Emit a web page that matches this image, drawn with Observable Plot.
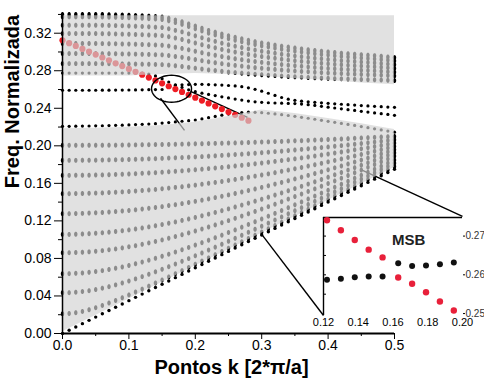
<!DOCTYPE html>
<html><head><meta charset="utf-8">
<script src="https://cdn.jsdelivr.net/npm/d3@7"></script>
<script src="https://cdn.jsdelivr.net/npm/@observablehq/plot@0.6"></script>
<style>
body{margin:0;background:#fff}
#wrap{position:relative;width:484px;height:378px;overflow:hidden}
#inset{position:absolute;left:300px;top:205px}
</style>
</head><body><div id="wrap"><div id="main"></div><div id="inset"></div></div>
<script>
// k points (2*pi/a)
const K = [0,.01,.02,.03,.04,.05,.06,.07,.08,.09,.10,.11,.12,.13,.14,.15,.16,.17,.18,.19,.20,.21,.22,.23,.24,.25,.26,.27,.28,.29,.30,.31,.32,.33,.34,.35,.36,.37,.38,.39,.40,.41,.42,.43,.44,.45,.46,.47,.48,.49,.50];

// light line (black dotted)
const lightLine = [0,.0035,.007,.0105,.014,.0175,.021,.0245,.028,.0315,.035,.0385,.042,.0455,.049,.0525,.056,.0595,.063,.0665,.07,.0735,.077,.0805,.084,.0875,.091,.0945,.098,.1015,.105,.1085,.112,.1155,.119,.1225,.126,.1295,.133,.1365,.14,.1435,.147,.1505,.154,.1575,.161,.1645,.168,.1715,.175];

// lower bulk bands
const low0 = [.0210,.0213,.0222,.0235,.0253,.0275,.0299,.0325,.0352,.0381,.0411,.0442,.0473,.0505,.0538,.0570,.0603,.0637,.0670,.0704,.0738,.0772,.0806,.0840,.0874,.0909,.0943,.0977,.1012,.1047,.1081,.1116,.1151,.1185,.1220,.1255,.1290,.1325,.1360,.1395,.1430,.1465,.1499,.1535,.1569,.1605,.1640,.1675,.1710,.1745,.1780];
const low1 = [.0434,.0435,.0440,.0447,.0456,.0468,.0483,.0499,.0518,.0538,.0559,.0582,.0606,.0631,.0657,.0684,.0712,.0740,.0769,.0798,.0828,.0858,.0889,.0920,.0951,.0982,.1014,.1046,.1078,.1111,.1143,.1176,.1209,.1242,.1275,.1308,.1341,.1375,.1408,.1442,.1475,.1509,.1543,.1577,.1611,.1645,.1679,.1713,.1747,.1781,.1815];
const low2 = [.0637,.0638,.0641,.0645,.0652,.0660,.0670,.0682,.0695,.0709,.0725,.0743,.0761,.0781,.0801,.0823,.0845,.0868,.0892,.0917,.0942,.0968,.0994,.1021,.1048,.1076,.1104,.1133,.1162,.1191,.1220,.1250,.1280,.1310,.1341,.1371,.1402,.1433,.1464,.1496,.1527,.1559,.1591,.1622,.1654,.1686,.1719,.1751,.1783,.1816,.1848];
const low3 = [.0860,.0861,.0863,.0866,.0870,.0876,.0883,.0892,.0901,.0912,.0924,.0936,.0950,.0965,.0981,.0997,.1015,.1033,.1052,.1072,.1092,.1113,.1135,.1157,.1180,.1203,.1227,.1251,.1276,.1301,.1326,.1352,.1378,.1405,.1432,.1459,.1486,.1514,.1541,.1569,.1598,.1626,.1655,.1684,.1713,.1742,.1771,.1801,.1830,.1860,.1890];
const low4 = [.1056,.1056,.1058,.1060,.1064,.1068,.1073,.1080,.1087,.1095,.1104,.1114,.1124,.1136,.1148,.1161,.1175,.1189,.1205,.1220,.1237,.1254,.1272,.1290,.1309,.1328,.1348,.1368,.1389,.1410,.1431,.1453,.1475,.1498,.1521,.1544,.1568,.1592,.1616,.1641,.1666,.1691,.1716,.1741,.1767,.1793,.1819,.1845,.1872,.1899,.1925];
const low5 = [.1277,.1277,.1278,.1280,.1283,.1286,.1289,.1294,.1299,.1305,.1311,.1318,.1326,.1334,.1343,.1352,.1363,.1373,.1384,.1396,.1408,.1421,.1434,.1448,.1462,.1477,.1492,.1508,.1524,.1540,.1557,.1574,.1592,.1610,.1628,.1647,.1666,.1685,.1704,.1724,.1744,.1765,.1785,.1806,.1827,.1848,.1870,.1892,.1914,.1936,.1959];
const low6 = [.1490,.1490,.1491,.1492,.1494,.1496,.1498,.1502,.1505,.1509,.1513,.1518,.1524,.1529,.1535,.1542,.1549,.1557,.1564,.1573,.1581,.1591,.1600,.1610,.1620,.1631,.1642,.1653,.1665,.1677,.1689,.1701,.1714,.1728,.1741,.1755,.1769,.1784,.1798,.1813,.1829,.1844,.1860,.1876,.1892,.1908,.1925,.1942,.1959,.1976,.1994];
const low7 = [.1685,.1685,.1686,.1686,.1687,.1689,.1690,.1692,.1695,.1697,.1700,.1703,.1707,.1710,.1714,.1719,.1723,.1728,.1733,.1739,.1745,.1751,.1757,.1763,.1770,.1777,.1785,.1792,.1800,.1808,.1816,.1825,.1834,.1843,.1852,.1861,.1871,.1881,.1891,.1902,.1912,.1923,.1934,.1945,.1957,.1968,.1980,.1992,.2004,.2016,.2029];
const low8 = [.1845,.1845,.1845,.1846,.1846,.1847,.1848,.1850,.1851,.1852,.1854,.1856,.1858,.1861,.1863,.1866,.1869,.1872,.1875,.1878,.1882,.1885,.1889,.1893,.1898,.1902,.1907,.1911,.1916,.1921,.1927,.1932,.1938,.1943,.1949,.1955,.1962,.1968,.1974,.1981,.1988,.1995,.2002,.2009,.2017,.2024,.2032,.2040,.2048,.2056,.2064];
const low9 = [.2005,.2005,.2005,.2005,.2006,.2006,.2006,.2007,.2007,.2008,.2009,.2010,.2011,.2012,.2013,.2014,.2015,.2016,.2018,.2019,.2021,.2022,.2024,.2026,.2027,.2029,.2031,.2033,.2035,.2038,.2040,.2042,.2045,.2047,.2050,.2053,.2055,.2058,.2061,.2064,.2067,.2070,.2073,.2076,.2080,.2083,.2087,.2090,.2094,.2097,.2100];

// guided (gap) bands
const bandA = [.2208,.2208,.2209,.2210,.2211,.2213,.2214,.2216,.2218,.2220,.2223,.2226,.2229,.2232,.2236,.2242,.2248,.2255,.2262,.2268,.2275,.2287,.2300,.2313,.2326,.2338,.2348,.2355,.2358,.2357,.2353,.2347,.2340,.2332,.2323,.2314,.2304,.2294,.2283,.2272,.2261,.2250,.2239,.2228,.2217,.2205,.2193,.2181,.2169,.2157,.2145];
const bandB = [.2592,.2592,.2592,.2592,.2592,.2592,.2593,.2593,.2594,.2594,.2595,.2596,.2597,.2598,.2599,.2600,.2635,.2645,.2650,.2653,.2655,.2655,.2653,.2650,.2647,.2643,.2638,.2630,.2618,.2602,.2582,.2560,.2537,.2515,.2497,.2485,.2476,.2469,.2463,.2458,.2453,.2448,.2443,.2438,.2434,.2429,.2425,.2421,.2417,.2413,.2410];
const bandC = [.2775,.2775,.2775,.2775,.2775,.2775,.2775,.2775,.2775,.2775,.2775,.2775,.2775,.2765,.2745,.2715,.2680,.2650,.2622,.2597,.2577,.2561,.2548,.2535,.2522,.2510,.2498,.2487,.2477,.2469,.2463,.2459,.2456,.2454,.2452,.2450,.2445,.2438,.2430,.2421,.2412,.2403,.2394,.2385,.2377,.2368,.2360,.2351,.2343,.2334,.2325];

// upper bulk bands
const up1 = [.2876,.2876,.2876,.2876,.2876,.2876,.2875,.2875,.2874,.2873,.2872,.2871,.2870,.2869,.2867,.2865,.2860,.2853,.2845,.2836,.2827,.2818,.2809,.2802,.2794,.2786,.2780,.2774,.2767,.2762,.2757,.2752,.2748,.2743,.2739,.2735,.2732,.2728,.2725,.2722,.2719,.2716,.2714,.2711,.2709,.2707,.2705,.2703,.2701,.2698,.2695];
const up2 = [.2983,.2983,.2983,.2983,.2983,.2983,.2982,.2982,.2981,.2979,.2978,.2977,.2975,.2974,.2971,.2969,.2962,.2952,.2943,.2931,.2919,.2907,.2895,.2885,.2875,.2865,.2857,.2849,.2840,.2833,.2826,.2820,.2814,.2808,.2803,.2798,.2793,.2789,.2784,.2780,.2776,.2773,.2770,.2766,.2764,.2761,.2758,.2756,.2753,.2749,.2745];
const up3 = [.3090,.3090,.3090,.3090,.3090,.3090,.3089,.3088,.3087,.3085,.3084,.3082,.3080,.3078,.3075,.3072,.3063,.3050,.3038,.3023,.3008,.2992,.2977,.2965,.2951,.2939,.2928,.2918,.2907,.2898,.2889,.2881,.2873,.2866,.2859,.2853,.2847,.2841,.2835,.2830,.2825,.2821,.2816,.2812,.2809,.2805,.2802,.2799,.2795,.2790,.2785];
const up4 = [.3196,.3196,.3196,.3196,.3196,.3196,.3195,.3194,.3192,.3190,.3189,.3186,.3184,.3181,.3178,.3174,.3163,.3148,.3133,.3114,.3096,.3077,.3059,.3044,.3027,.3012,.2999,.2986,.2973,.2962,.2951,.2942,.2933,.2923,.2915,.2907,.2900,.2893,.2886,.2880,.2874,.2868,.2863,.2858,.2854,.2850,.2846,.2842,.2837,.2831,.2825];
const up5 = [.3285,.3285,.3285,.3285,.3285,.3285,.3284,.3283,.3281,.3279,.3277,.3274,.3272,.3268,.3264,.3260,.3247,.3230,.3214,.3193,.3172,.3151,.3130,.3113,.3094,.3077,.3062,.3048,.3033,.3020,.3008,.2997,.2987,.2976,.2967,.2958,.2950,.2942,.2934,.2927,.2920,.2914,.2908,.2903,.2898,.2893,.2889,.2884,.2878,.2872,.2865];
const up6 = [.3374,.3374,.3374,.3374,.3374,.3373,.3373,.3371,.3369,.3367,.3365,.3362,.3359,.3355,.3351,.3346,.3332,.3313,.3294,.3271,.3247,.3224,.3200,.3182,.3161,.3142,.3125,.3109,.3093,.3079,.3065,.3053,.3041,.3029,.3019,.3009,.3000,.2991,.2982,.2974,.2967,.2960,.2953,.2947,.2942,.2936,.2931,.2926,.2920,.2913,.2905];
const up7 = [.3400,.3400,.3400,.3400,.3400,.3400,.3399,.3397,.3395,.3393,.3391,.3388,.3385,.3382,.3377,.3372,.3359,.3340,.3322,.3299,.3276,.3253,.3230,.3211,.3191,.3172,.3156,.3140,.3124,.3110,.3096,.3085,.3073,.3062,.3052,.3042,.3033,.3024,.3016,.3008,.3001,.2994,.2987,.2981,.2976,.2971,.2966,.2961,.2955,.2947,.2940];

// red (MSB) mode
const redK = [0,.01,.02,.03,.04,.05,.06,.07,.08,.09,.10,.11,.12,.13,.14,.15,.16,.17,.18,.19,.20,.21,.22,.23,.24,.25,.26,.27,.28];
const redF = [.3125,.3094,.3064,.3033,.3003,.2972,.2941,.2911,.2880,.2850,.2819,.2788,.2758,.2727,.2697,.2666,.2635,.2605,.2574,.2544,.2513,.2482,.2452,.2421,.2391,.2360,.2330,.2299,.2268];

// shaded (bulk-mode) regions
const regionK = [0,.05,.10,.15,.20,.25,.30,.35,.40,.45,.50];
const lowerRegionBottom = [.0018,.0193,.0368,.0543,.0718,.0893,.1068,.1243,.1418,.1593,.1768];
const lowerRegionTop = [.2183,.2188,.2198,.2217,.2250,.2313,.2383,.2344,.2291,.2235,.2175];
const upperRegionBottom = [.2745,.2745,.2745,.2760,.2770,.2760,.2740,.2715,.2695,.2670,.2650];
const upperRegionTop = [.3385,.3385,.3385,.3385,.3385,.3385,.3385,.3385,.3385,.3385,.3385];

// zoom annotation (ellipse + callout lines), in (k, f) units
const zoomEllipse = [{k: .1642, f: .2608}];
const callouts = [
  {k1: .1928, f1: .2581, k2: .2786, f2: .2302},
  {k1: .4503, f1: .1743, k2: .6024, f2: .1248},
  {k1: .1476, f1: .2507, k2: .1837, f2: .2165},
  {k1: .3012, f1: .1045, k2: .3931, f2: .0192}
];

// axes
const yTicks = [0,.04,.08,.12,.16,.20,.24,.28,.32];
const yMinor = [.02,.06,.10,.14,.18,.22,.26,.30,.34];
const xTicks = [0,.1,.2,.3,.4,.5];
const xMinor = [.05,.15,.25,.35,.45];
const yTitle = "Freq. Normalizada";
const xTitle = "Pontos k [2*\u03c0/a]";

// inset (MSB)
const insetK = [.122,.130,.138,.146,.154,.163,.171,.179,.187,.195];
const insetRed = [.2741,.2715,.2690,.2665,.2645,.2593,.2577,.2555,.2531,.2508];
const insetBlack = [.2587,.2590,.2594,.2596,.2596,.2630,.2623,.2624,.2627,.2632];
const insetXTicks = [.12,.14,.16,.18,.20];
const insetYTicks = [.25,.26,.27];
const insetYMinor = [.255,.26,.265,.27];
const insetXDomain = [.12,.20];
const insetYDomain = [.2495,.2748];
const insetLabel = [{text: "MSB", k: .169, f: .2689}];

// ---- build tables ----
const toPts = (arr, xs = K) => arr.map((f, j) => ({k: xs[j], f}));
const lightData = toPts(lightLine);
const lowerData = [low0,low1,low2,low3,low4,low5,low6,low7,low8,low9].flatMap(b => toPts(b));
const upperData = [up1,up2,up3,up4,up5,up6,up7].flatMap(b => toPts(b));
const gapData = [bandA,bandB,bandC].flatMap(b => toPts(b));
const redData = toPts(redF, redK);
const lowerRegion = regionK.map((k,i) => ({k, lo: lowerRegionBottom[i], hi: lowerRegionTop[i]}));
const upperRegion = regionK.map((k,i) => ({k, lo: upperRegionBottom[i], hi: upperRegionTop[i]}));

const ellipseOf = (rx, ry) => ({draw(ctx) {
  const n = 48;
  ctx.moveTo(rx, 0);
  for (let i = 1; i <= n; i++) { const a = i / n * 2 * Math.PI; ctx.lineTo(rx * Math.cos(a), ry * Math.sin(a)); }
  ctx.closePath();
}});
const zoomSymbol = ellipseOf(20, 13.5);
const dashSymbol = ellipseOf(1.7, 2.5);

const font = "'Liberation Sans', Arial, Helvetica, sans-serif";
const shade = {fill: "#d2d2d2", fillOpacity: 0.667};

const main = Plot.plot({
  width: 484, height: 378,
  marginLeft: 62, marginRight: 90, marginTop: 13, marginBottom: 45,
  style: {fontFamily: font, fontSize: "14px", background: "white", overflow: "visible", color: "black"},
  x: {domain: [0, .5]},
  y: {domain: [0, .341]},
  marks: [
    Plot.link(callouts, {x1: "k1", y1: "f1", x2: "k2", y2: "f2", stroke: "black", strokeWidth: 1.4}),
    Plot.dot(lightData, {x: "k", y: "f", r: 1.7, fill: "black", stroke: "none"}),
    Plot.dot(lowerData, {x: "k", y: "f", symbol: dashSymbol, fill: "black", stroke: "none"}),
    Plot.dot(upperData, {x: "k", y: "f", symbol: dashSymbol, fill: "black", stroke: "none"}),
    Plot.dot(gapData, {x: "k", y: "f", r: 1.6, fill: "black", stroke: "none"}),
    Plot.dot(redData, {x: "k", y: "f", r: 3.1, fill: "#ee1c24", stroke: "none"}),
    Plot.areaY(lowerRegion, {x: "k", y1: "lo", y2: "hi", ...shade}),
    Plot.areaY(upperRegion, {x: "k", y1: "lo", y2: "hi", ...shade}),
    Plot.dot(zoomEllipse, {x: "k", y: "f", symbol: zoomSymbol, fill: "none", stroke: "black", strokeWidth: 1.4}),
    Plot.ruleX([0], {strokeWidth: 1.5}),
    Plot.ruleY([0], {strokeWidth: 2}),
    Plot.axisY({ticks: yTicks, tickFormat: d3.format(".2f"), tickSize: 8, tickPadding: 3, label: null, fontSize: 14}),
    Plot.axisY({ticks: yMinor, tickFormat: () => "", tickSize: 4, label: null}),
    Plot.axisX({ticks: xTicks, tickFormat: d3.format(".1f"), tickSize: 6, tickPadding: 1, label: null, fontSize: 14}),
    Plot.axisX({ticks: xMinor, tickFormat: () => "", tickSize: 3, label: null}),
    Plot.text([yTitle], {text: d => d, frameAnchor: "top-left", dx: -50, dy: 88, rotate: -90, textAnchor: "middle", lineAnchor: "middle", fontSize: 20, fontWeight: "bold"}),
    Plot.text([xTitle], {text: d => d, frameAnchor: "bottom", dx: 3, dy: 34, textAnchor: "middle", lineAnchor: "middle", fontSize: 20, fontWeight: "bold"})
  ]
});
document.getElementById("main").append(main);

const insetRedData = toPts(insetRed, insetK);
const insetBlackData = toPts(insetBlack, insetK);
const inset = Plot.plot({
  width: 184, height: 130,
  marginLeft: 23, marginRight: 22, marginTop: 12, marginBottom: 20,
  style: {fontFamily: font, fontSize: "10px", background: "transparent", overflow: "visible", color: "black"},
  x: {domain: insetXDomain},
  y: {domain: insetYDomain},
  marks: [
    Plot.ruleY([insetYDomain[1]], {strokeWidth: 1.4}),
    Plot.ruleX([insetXDomain[0]], {strokeWidth: 1.4}),
    Plot.axisX({ticks: insetXTicks, tickFormat: d3.format(".2f"), tickSize: 0, tickPadding: 3, label: null, fontSize: 11}),
    Plot.axisY({anchor: "right", ticks: insetYTicks, tickFormat: d3.format(".2f"), tickSize: 2, tickPadding: 1, label: null, fontSize: 10, fill: "#333"}),
    Plot.axisY({anchor: "left", ticks: insetYMinor, tickFormat: () => "", tickSize: 3, dx: 3, label: null}),
    Plot.dot(insetBlackData, {x: "k", y: "f", r: 3, fill: "#111", stroke: "none"}),
    Plot.dot(insetRedData, {x: "k", y: "f", r: 3.2, fill: "#e8203a", stroke: "none"}),
    Plot.text(insetLabel, {x: "k", y: "f", text: "text", fontSize: 15, fontWeight: "bold", fill: "#222"})
  ]
});
document.getElementById("inset").append(inset);
</script>
</body></html>
